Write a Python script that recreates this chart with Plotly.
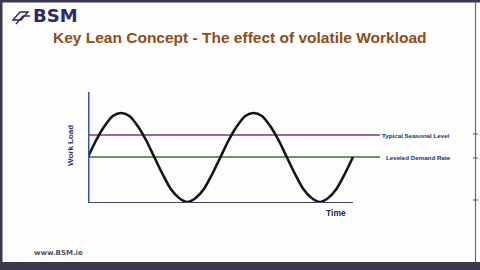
import plotly.graph_objects as go

# ---- data ----
time_steps = list(range(33))  # sixteenth-periods, two full cycles
workload = [46, 63, 77, 87, 90, 87, 77, 63, 46, 29, 14, 5, 1, 5, 14, 29,
            46, 63, 77, 87, 90, 87, 77, 63, 46, 29, 14, 5, 1, 5, 14, 29, 46]
typical_seasonal_level = 68
leveled_demand_rate = 46
level_names = ["Typical Seasonal Level", "Leveled Demand Rate"]

W, H = 480, 270

def px(x):
    return x / W

def py(y):
    return 1 - y / H

# plot geometry in pixels
x0_px, x_end_px = 88, 353          # x axis line span (two cycles)
n_steps = len(time_steps) - 1
ppu = (x_end_px - x0_px) / n_steps
dom_right_px = 400
xr = (dom_right_px - x0_px) / ppu
y_top_px, y_bot_px = 92, 203
yr = y_bot_px - y_top_px

fig = go.Figure()

t_lvl_end = (380 - x0_px) / ppu
fig.add_trace(go.Scatter(x=[0, t_lvl_end], y=[typical_seasonal_level] * 2, mode="lines",
                         line=dict(color="#8e2a8e", width=1.6), hoverinfo="skip"))
fig.add_trace(go.Scatter(x=[0, t_lvl_end], y=[leveled_demand_rate] * 2, mode="lines",
                         line=dict(color="#2f7a2f", width=1.6), hoverinfo="skip"))
fig.add_trace(go.Scatter(x=time_steps, y=workload, mode="lines",
                         line=dict(color="#151515", width=2.6, shape="spline", smoothing=0.8),
                         hoverinfo="skip"))

shapes = []
shapes.append(dict(type="line", xref="x", yref="y", x0=0, x1=n_steps, y0=0, y1=0,
                   line=dict(color="#3e4a6c", width=2.2)))
shapes.append(dict(type="line", xref="x", yref="y", x0=0, x1=0, y0=0, y1=yr,
                   line=dict(color="#3555a5", width=3)))
dark = "#3b3950"
shapes += [
    dict(type="rect", xref="paper", yref="paper", x0=0, x1=1, y0=py(2.5), y1=1,
         fillcolor=dark, line=dict(width=0), layer="above"),
    dict(type="rect", xref="paper", yref="paper", x0=0, x1=1, y0=0, y1=py(262),
         fillcolor=dark, line=dict(width=0), layer="above"),
    dict(type="rect", xref="paper", yref="paper", x0=0, x1=px(2.5), y0=0, y1=1,
         fillcolor=dark, line=dict(width=0), layer="above"),
    dict(type="line", xref="paper", yref="paper", x0=px(475.5), x1=px(475.5), y0=py(262), y1=py(2),
         line=dict(color="#6a6a78", width=1.2)),
]
for ty in [134, 158, 200]:
    shapes.append(dict(type="line", xref="paper", yref="paper", x0=px(473), x1=px(478),
                       y0=py(ty), y1=py(ty), line=dict(color="#555566", width=1)))
shapes.append(dict(type="path", xref="paper", yref="paper",
                   path=f"M {px(13)},{py(20)} L {px(20)},{py(12)} L {px(28)},{py(12)} L {px(21)},{py(20)} Z",
                   line=dict(color="#2a2a6a", width=1.4), fillcolor="rgba(0,0,0,0)"))
shapes.append(dict(type="path", xref="paper", yref="paper",
                   path=f"M {px(16)},{py(24)} L {px(23)},{py(16)} L {px(30)},{py(16)}",
                   line=dict(color="#2a2a6a", width=1.4)))

annotations = [
    dict(text="<b>BSM</b>", x=px(31), y=py(16), xref="paper", yref="paper", xanchor="left",
         yanchor="middle", showarrow=False, font=dict(family="DejaVu Sans", size=18, color="#2a2a6a")),
    dict(text="<b>Key Lean Concept - The effect of volatile Workload</b>", x=px(240), y=py(37),
         xref="paper", yref="paper", xanchor="center", yanchor="middle", showarrow=False,
         font=dict(family="Liberation Sans", size=15.5, color="#8f4c1c")),
    dict(text="<b>Work Load</b>", x=px(70), y=py(146), xref="paper", yref="paper", textangle=-90,
         xanchor="center", yanchor="middle", showarrow=False,
         font=dict(family="Liberation Sans", size=8, color="#24306e")),
    dict(text="<b>Time</b>", x=px(336), y=py(213), xref="paper", yref="paper",
         xanchor="center", yanchor="middle", showarrow=False,
         font=dict(family="Liberation Sans", size=8.5, color="#1e2550")),
    dict(text="<b>" + level_names[0] + "</b>", x=t_lvl_end, y=typical_seasonal_level, xref="x", yref="y",
         xanchor="left", yanchor="middle", showarrow=False,
         font=dict(family="Liberation Sans", size=6.2, color="#2a3070")),
    dict(text="<b>" + level_names[1] + "</b>", x=t_lvl_end, y=leveled_demand_rate, xref="x", yref="y",
         xanchor="left", yanchor="middle", showarrow=False, xshift=4,
         font=dict(family="Liberation Sans", size=6.2, color="#2a3070")),
    dict(text="<b>www.BSM.ie</b>", x=px(32), y=py(253), xref="paper", yref="paper",
         xanchor="left", yanchor="middle", showarrow=False,
         font=dict(family="DejaVu Sans", size=7, color="#555560")),
]

fig.update_layout(
    width=W, height=H, margin=dict(l=0, r=0, t=0, b=0),
    paper_bgcolor="#fdfdfd", plot_bgcolor="rgba(0,0,0,0)", showlegend=False,
    xaxis=dict(domain=[px(x0_px), px(dom_right_px)], range=[0, xr], visible=False, fixedrange=True),
    yaxis=dict(domain=[py(y_bot_px), py(y_top_px)], range=[0, yr], visible=False, fixedrange=True),
    shapes=shapes, annotations=annotations,
)

fig.write_html("out.html")
